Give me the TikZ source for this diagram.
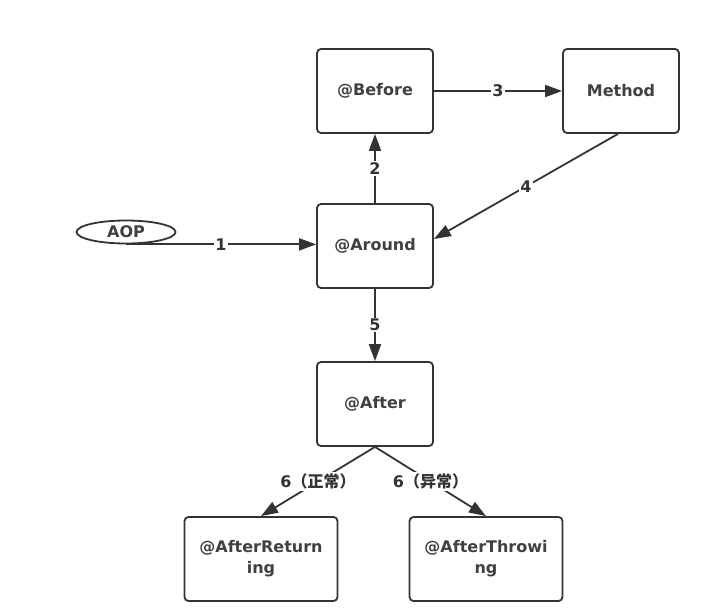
\documentclass[tikz,border=0pt]{standalone}
\usepackage{fontspec}
\setmainfont{DejaVu Sans}
\newfontfamily\cjk{Noto Sans CJK SC}
\usetikzlibrary{arrows.meta,shapes.geometric}
\tikzset{
  blockbox/.style={draw, line width=1.8pt, rounded corners=4pt, minimum width=116pt,
    minimum height=84pt, align=center, font=\bfseries\fontsize{16}{21}\selectfont},
  flow/.style={line width=1.8pt, -{Triangle[length=17pt,width=12pt]}, color=black!80},
  steplab/.style={fill=white, inner sep=1.5pt, font=\bfseries\fontsize{16}{19}\selectfont}
}
\begin{document}
\begin{tikzpicture}[x=1pt, y=-1pt, color=black!80, text=black!75]
  \useasboundingbox (0,0) rectangle (709,609);
  \node[blockbox] (before) at (375,91) {@Before};
  \node[blockbox] (method) at (621,91) {Method};
  \node[blockbox] (around) at (375,246) {@Around};
  \node[blockbox] (after) at (375,404) {@After};
  \node[blockbox, minimum width=153pt] (afterret) at (261,559) {@AfterReturn\\ing};
  \node[blockbox, minimum width=153pt] (afterthr) at (486,559) {@AfterThrowi\\ng};
  \node[draw, ellipse, line width=1.8pt, minimum width=99pt, minimum height=23pt, inner sep=0pt,
    font=\bfseries\fontsize{16}{19}\selectfont] (aop) at (126,232) {AOP};
  % steps
  \draw[flow] (aop.south) -- (aop.south -| around.west) node[steplab, midway] {1};
  \draw[flow] (around.north) -- (before.south) node[steplab, midway] {2};
  \draw[flow] (before.east) -- (method.west) node[steplab, midway] {3};
  \draw[flow] ([xshift=-3pt]method.south) -- ([yshift=7pt]around.east) node[steplab, midway] {4};
  \draw[flow] (around.south) -- (after.north) node[steplab, midway] {5};
  \draw[flow] (after.south) -- (afterret.north) node[steplab, midway] {6{\cjk（正常）}};
  \draw[flow] (after.south) -- (afterthr.north) node[steplab, midway] {6{\cjk（异常）}};
\end{tikzpicture}
\end{document}
